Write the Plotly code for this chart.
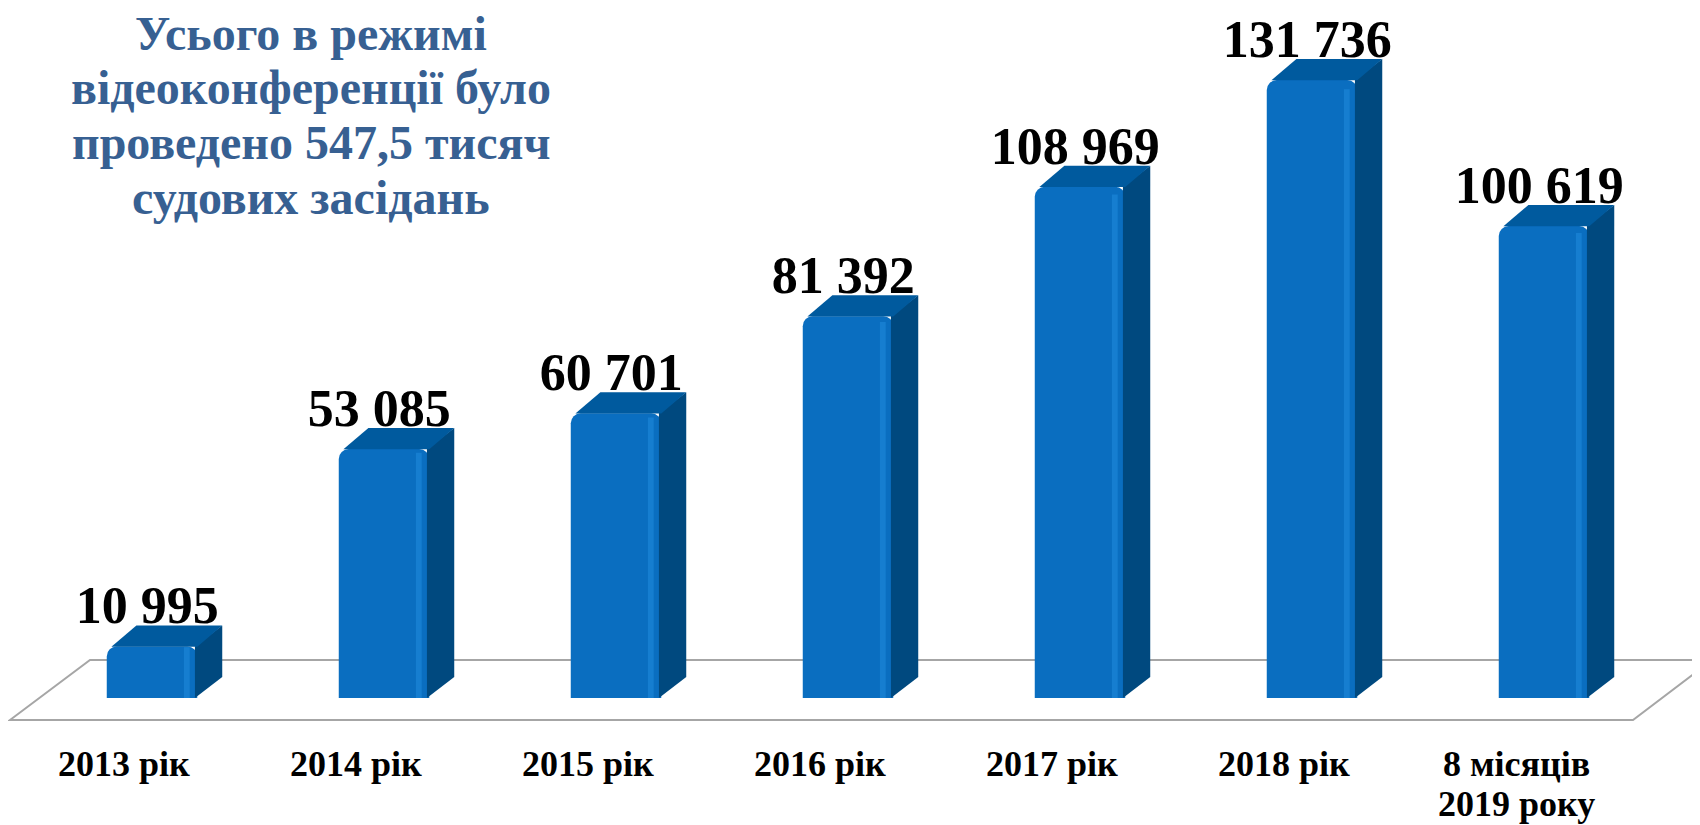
import plotly.graph_objects as go

categories = ["2013 рік", "2014 рік", "2015 рік", "2016 рік", "2017 рік", "2018 рік", "8 місяців<br>2019 року"]
values = [10995, 53085, 60701, 81392, 108969, 131736, 100619]
value_labels = ["10 995", "53 085", "60 701", "81 392", "108 969", "131 736", "100 619"]
title_lines = ["Усього в режимі", "відеоконференції було", "проведено 547,5 тисяч", "судових засідань"]

OFF = 8                      # page body margin in the browser
W, H = 1700 - OFF, 825 - OFF
MB = 103                     # bottom margin
PH = H - MB                  # plot height in px
PX_PER_UNIT = 0.004691
ZERO_PX = 698 - OFF
YMAX = ZERO_PX / PX_PER_UNIT
YMIN = -(PH - ZERO_PX) / PX_PER_UNIT
CAT_PX = 232.0
FIRST_PX = 152.0 - OFF
XMIN = -FIRST_PX / CAT_PX
XMAX = XMIN + W / CAT_PX

BAR_W = 0.39
DX = 25 / CAT_PX
DY = 21 / PX_PER_UNIT
LABEL_DROP = 11 / PX_PER_UNIT

FRONT = "#0A6EC0"
SIDE = "#00497F"
TOP = "#005A9E"
HIGHLIGHT = "#1E88DA"
TITLE_C = "#376092"
FONT = "Liberation Serif"

xs = list(range(len(values)))
fig = go.Figure()

# side and top faces (depth) computed from data
for x, v in zip(xs, values):
    r = x + BAR_W / 2
    l = x - BAR_W / 2
    fig.add_trace(go.Scatter(
        x=[r - 0.01, r + DX, r + DX, r - 0.01, r - 0.01],
        y=[0, DY, v + DY, v, 0],
        fill="toself", fillcolor=SIDE, mode="lines", line=dict(width=0, color=SIDE),
        hoverinfo="skip", showlegend=False))
    fig.add_trace(go.Scatter(
        x=[l + 0.02, r, r + DX, l + DX + 0.02, l + 0.02],
        y=[v - 0.01 * DY, v - 0.01 * DY, v + DY, v + DY, v - 0.01 * DY],
        fill="toself", fillcolor=TOP, mode="lines", line=dict(width=0, color=TOP),
        hoverinfo="skip", showlegend=False))

# front faces
fig.add_trace(go.Bar(
    x=xs, y=values, width=BAR_W, marker=dict(color=FRONT, line=dict(width=0), cornerradius=10),
    hoverinfo="x+y", showlegend=False))
# highlight strip
fig.add_trace(go.Bar(
    x=[x + BAR_W / 2 - 0.045 for x in xs], y=[v * 0.985 for v in values], width=0.025,
    marker=dict(color=HIGHLIGHT, line=dict(width=0), opacity=0.6), hoverinfo="skip", showlegend=False))

# value labels
fig.add_trace(go.Scatter(
    x=[x - 0.02 for x in xs], y=[v + DY - LABEL_DROP for v in values], mode="text", text=value_labels,
    textposition="top center",
    textfont=dict(family=FONT, size=52, color="black", weight="bold"),
    hoverinfo="skip", showlegend=False, cliponaxis=False))

def px(xp):
    return (xp - OFF) / W
def py(yp):
    return 1 - (yp - OFF) / PH

# floor plane (decoration)
fig.add_shape(type="path",
              path=f"M {px(10)} {py(720)} L {px(90)} {py(660)} L {px(1712)} {py(660)} L {px(1633)} {py(720)} Z",
              xref="paper", yref="paper", line=dict(color="#A6A6A6", width=2), layer="below")

# title
TITLE_FS = 48
baselines = [48, 102, 157, 212]
for t, b in zip(title_lines, baselines):
    fig.add_annotation(text=t, x=px(311), y=py(b - 0.3 * TITLE_FS), xref="paper", yref="paper",
                       xanchor="center", yanchor="middle", showarrow=False,
                       font=dict(family=FONT, size=TITLE_FS, color=TITLE_C, weight="bold"))

# category labels (one annotation per text line for exact line spacing)
CAT_FS = 36
for x, c in zip(xs, categories):
    for k, line in enumerate(c.split("<br>")):
        fig.add_annotation(text=line, x=x - 0.12, y=py(775 + 40 * k - 0.3 * CAT_FS),
                           xref="x", yref="paper", xanchor="center", yanchor="middle",
                           showarrow=False,
                           font=dict(family=FONT, size=CAT_FS, color="black", weight="bold"))

fig.update_layout(
    width=W, height=H, margin=dict(l=0, r=0, t=0, b=MB),
    plot_bgcolor="white", paper_bgcolor="white", barmode="overlay",
    xaxis=dict(range=[XMIN, XMAX], showticklabels=False,
               showgrid=False, zeroline=False, showline=False, ticks=""),
    yaxis=dict(range=[YMIN, YMAX], visible=False, showgrid=False, zeroline=False),
)

fig.write_html("out.html")
